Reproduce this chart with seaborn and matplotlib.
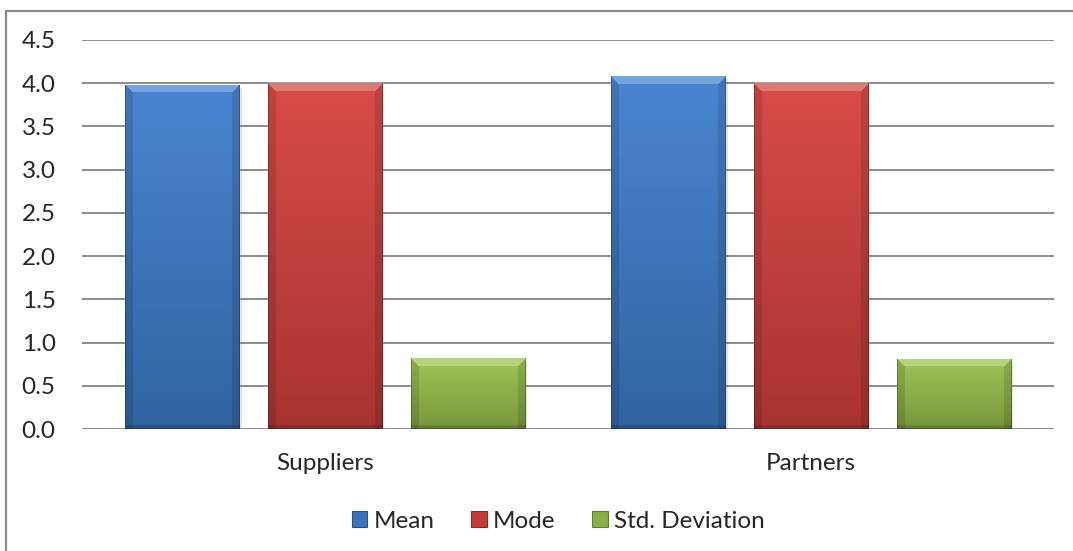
import numpy as np
import pandas as pd
import matplotlib
matplotlib.use("Agg")
import matplotlib.pyplot as plt
from matplotlib.patches import Rectangle, Patch
import seaborn as sns

# Survey statistics per respondent group
categories = ["Suppliers", "Partners"]
mean_vals = [3.98, 4.08]
mode_vals = [4.0, 4.0]
std_vals = [0.82, 0.81]
series_names = ["Mean", "Mode", "Std. Deviation"]
y_ticks = [0.0, 0.5, 1.0, 1.5, 2.0, 2.5, 3.0, 3.5, 4.0, 4.5]

base_colors = {"Mean": (0.25, 0.50, 0.81),
               "Mode": (0.84, 0.26, 0.25),
               "Std. Deviation": (0.60, 0.76, 0.30)}

df = pd.DataFrame({
    "Group": categories * 3,
    "Statistic": [s for s in series_names for _ in categories],
    "Value": mean_vals + mode_vals + std_vals,
})

sns.set_theme(style="white")
plt.rcParams["font.family"] = ["Lato", "DejaVu Sans"]
FS = 17.5

fig = plt.figure(figsize=(10.73, 5.51), dpi=100)
ax = fig.add_axes([82 / 1073, 1 - 429 / 551, (1054 - 82) / 1073, (429 - 40) / 551])

sns.barplot(data=df, x="Group", y="Value", hue="Statistic", order=categories,
            hue_order=series_names, palette=base_colors, saturation=1,
            width=0.88, gap=0.2, ax=ax, legend=False, zorder=3)

ax.set_ylim(0, 4.5)
ax.set_yticks(y_ticks)
ax.set_yticklabels([f"{v:.1f}" for v in y_ticks], fontsize=FS)
ax.set_xlim(-0.5, 1.5)
ax.set_xlabel("")
ax.set_ylabel("")
ax.tick_params(axis="x", labelsize=FS, length=0, pad=17)
ax.tick_params(axis="y", length=0, pad=19)
for sp in ax.spines.values():
    sp.set_visible(False)
for v in y_ticks:
    ax.axhline(v, color="#8a8a8a", lw=1.4, zorder=1)

fig.canvas.draw()


def shade(rgb, f):
    rgb = np.asarray(rgb)
    if f >= 0:
        return rgb + (1 - rgb) * f
    return rgb * (1 + f)


# Bevelled gradient fill for each bar
for patch in ax.patches:
    if patch.get_height() <= 0:
        continue
    rgb = np.array(patch.get_facecolor()[:3])
    x0, y0 = patch.get_x(), patch.get_y()
    w, h = patch.get_width(), patch.get_height()
    (px0, py0), (px1, py1) = ax.transData.transform([(x0, y0), (x0 + w, y0 + h)])
    W = max(int(round(px1 - px0)), 2)
    H = max(int(round(py1 - py0)), 2)
    t = np.linspace(0, 1, H)[:, None]  # 0 top, 1 bottom
    top_c = shade(rgb, 0.05)
    bot_c = shade(rgb, -0.22)
    img = top_c[None, None, :] * (1 - t[..., None]) + bot_c[None, None, :] * t[..., None]
    img = np.repeat(img, W, axis=1)
    yy, xx = np.mgrid[0:H, 0:W]
    bev = 8
    d_left = xx
    d_right = W - 1 - xx
    d_top = yy
    d_bot = H - 1 - yy
    top_band = (d_top < bev) & (d_top <= d_left) & (d_top <= d_right)
    side_band = ((d_left < bev) | (d_right < bev)) & ~top_band
    bot_band = (d_bot < 4) & ~top_band
    img[top_band] = shade(rgb, 0.28)
    img[side_band] = img[side_band] * 0.88
    img[bot_band] = img[bot_band] * 0.85
    # thin dark outline
    edge = (d_left < 1) | (d_right < 1) | (d_bot < 1)
    img[edge] = img[edge] * 0.75
    img = np.clip(img, 0, 1)
    # soft shadow below/right
    ax.add_patch(Rectangle((x0 + w * 0.02, y0 - 0.03), w, h, facecolor="#000000",
                           alpha=0.12, lw=0, zorder=2))
    im = ax.imshow(img, extent=[x0, x0 + w, y0, y0 + h], aspect="auto",
                   interpolation="bilinear", zorder=4)
    im.set_clip_path(patch)
ax.set_xlim(-0.5, 1.5)
ax.set_ylim(0, 4.5)

handles = [Patch(facecolor=shade(base_colors[s], -0.1), edgecolor=shade(base_colors[s], -0.35),
                 lw=0.8) for s in series_names]
fig.legend(handles, series_names, loc="center", bbox_to_anchor=(0.52, 1 - 521 / 551),
           ncol=3, frameon=False, fontsize=FS, handlelength=0.65, handleheight=0.65,
           handletextpad=0.25, columnspacing=1.5)

# Chart frame
fig.add_artist(Rectangle((6 / 1073, -0.1), 1.2, 1 - 11 / 551 + 0.1, transform=fig.transFigure,
                         fill=False, edgecolor="#8c8c8c", lw=1.6))

fig.savefig("out.png", dpi=100)
